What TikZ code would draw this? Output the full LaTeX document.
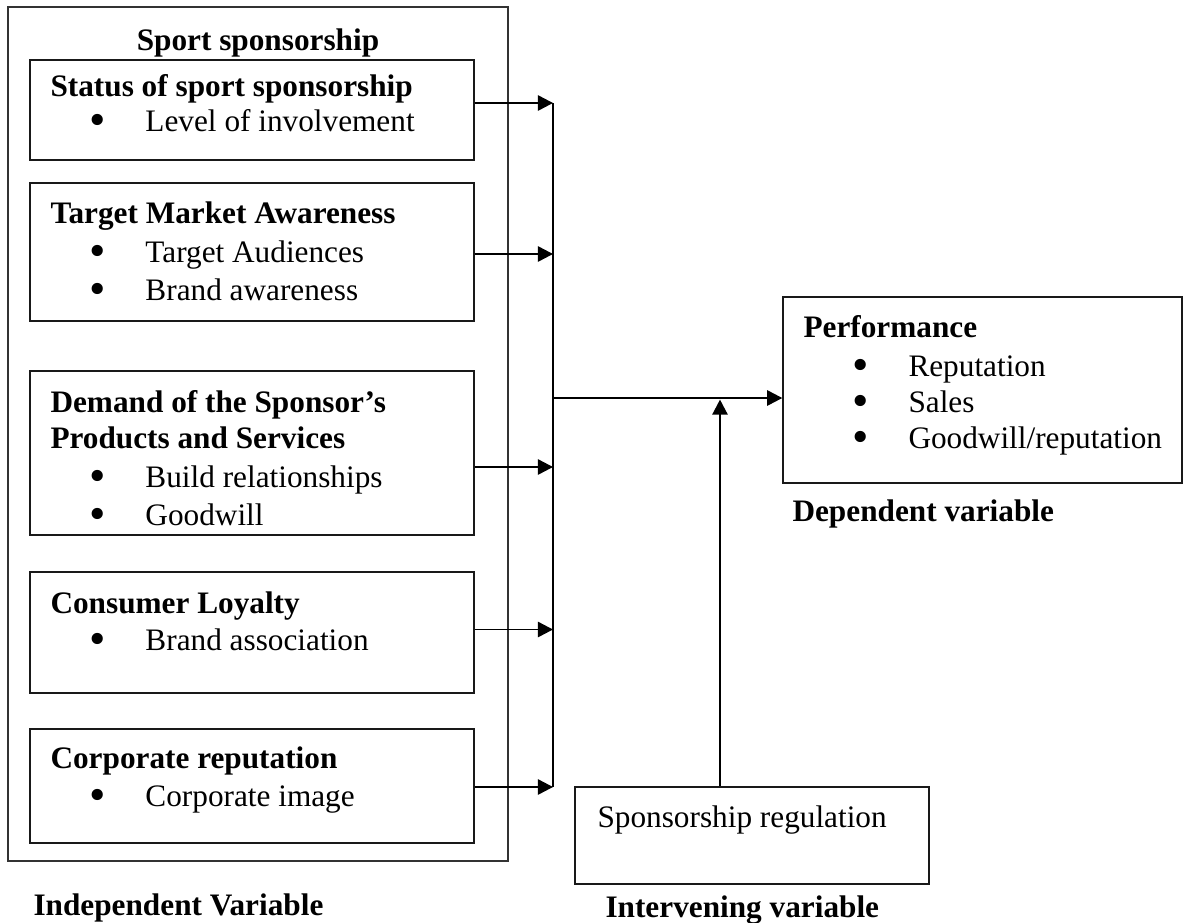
\documentclass[tikz,border=0pt]{standalone}
\usepackage{fontspec}
\setmainfont{Liberation Serif}
\usetikzlibrary{arrows.meta,fit}

\tikzset{
  frame/.style={draw=black!80,line width=0.4pt,inner sep=0pt},
  box/.style={draw=black!90,line width=0.55pt,inner sep=0pt},
  txt/.style={anchor=base west,inner sep=0pt,font=\fontsize{11.8}{14}\selectfont},
  head/.style={txt,font=\fontsize{11.8}{14}\selectfont\bfseries},
  flow/.style={line width=0.6pt,-{Triangle[length=5.7pt,width=5.8pt]}},
  bus/.style={line width=0.65pt}
}
\newcommand\bitem[1]{\makebox[0pt]{\smash{\raisebox{-0.13em}{\scalebox{1.5}{\textbullet}}}}\hspace{18.1pt}#1}

\begin{document}
\begin{tikzpicture}[x=0.3774pt,y=-0.3774pt]
  \useasboundingbox (0,0) rectangle (1183,922);

  % the independent variables
  \node [frame,fit={(8,7) (508,861)}] (sport) {};
  \node [head,anchor=base] (sporthd) at (258,50) {Sport sponsorship};

  \node [box,fit={(30,60) (474,160)}] (status) {};
  \node [head] (statushd) at (50,96) {Status of sport sponsorship};
  \node [txt] (status1) at (97,131) {\bitem{Level of involvement}};

  \node [box,fit={(30,183) (474,321)}] (market) {};
  \node [head] (markethd) at (50,223) {Target Market Awareness};
  \node [txt] (market1) at (97,262) {\bitem{Target Audiences}};
  \node [txt] (market2) at (97,300) {\bitem{Brand awareness}};

  \node [box,fit={(30,371) (474,535)}] (demand) {};
  \node [head] (demandhd) at (50,412) {Demand of the Sponsor’s};
  \node [head] (demandhd2) at (50,448) {Products and Services};
  \node [txt] (demand1) at (97,487) {\bitem{Build relationships}};
  \node [txt] (demand2) at (97,525) {\bitem{Goodwill}};

  \node [box,fit={(30,572) (474,693)}] (loyal) {};
  \node [head] (loyalhd) at (50,613) {Consumer Loyalty};
  \node [txt] (loyal1) at (97,650) {\bitem{Brand association}};

  \node [box,fit={(30,729) (474,843)}] (corp) {};
  \node [head] (corphd) at (50,768) {Corporate reputation};
  \node [txt] (corp1) at (97,806) {\bitem{Corporate image}};

  \node [head] (indep) at (33,915) {Independent Variable};

  % the dependent variable
  \node [box,fit={(783,297) (1182,483)}] (perf) {};
  \node [head] (perfhd) at (803,337) {Performance};
  \node [txt] (perf1) at (860,376) {\bitem{Reputation}};
  \node [txt] (perf2) at (860,412) {\bitem{Sales}};
  \node [txt] (perf3) at (860,448) {\bitem{Goodwill/reputation}};
  \node [head] (dep) at (792,521) {Dependent variable};

  % the intervening variable
  \node [box,fit={(575,787) (929,884)}] (reg) {};
  \node [txt] (reg1) at (597,827) {Sponsorship regulation};
  \node [head] (interv) at (605,917) {Intervening variable};

  % arrows into the bus line and on to performance
  \coordinate (hub) at (553,398);
  \draw [flow] (status.east) ++(0,-7) coordinate (statusin) -- (statusin -| hub);
  \draw [flow] (market.east) ++(0,2) coordinate (marketin) -- (marketin -| hub);
  \draw [flow] (demand.east) ++(0,14) coordinate (demandin) -- (demandin -| hub);
  \draw [flow] (loyal.east) ++(0,-3) coordinate (loyalin) -- (loyalin -| hub);
  \draw [flow] (corp.east) ++(0,1) coordinate (corpin) -- (corpin -| hub);
  \draw [bus] (statusin -| hub) -- (corpin -| hub);
  \draw [flow] (hub) -- (hub -| perf.west);
  \draw [flow] (reg.north) ++(-32,0) coordinate (regin) -- ([yshift=-0.6pt]regin |- hub);
\end{tikzpicture}
\end{document}
